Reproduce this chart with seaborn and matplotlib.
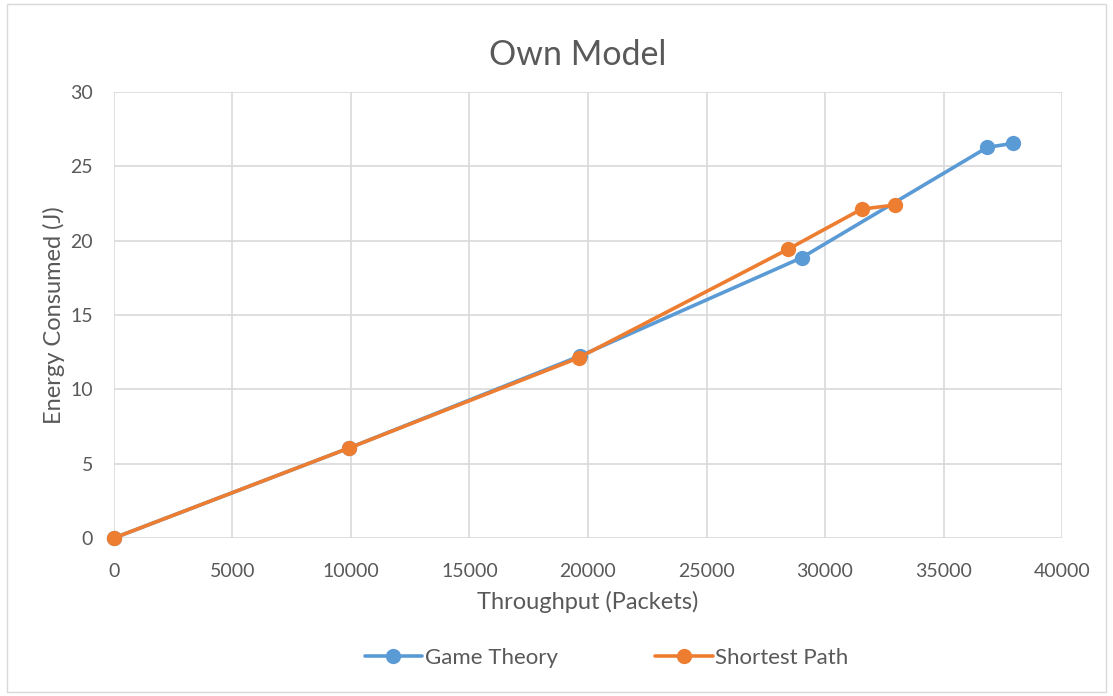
import matplotlib
matplotlib.use("Agg")
import matplotlib.pyplot as plt
import matplotlib.patches as mpatches
import seaborn as sns
import pandas as pd

# values
gt_throughput = [0, 9916, 19662, 29017, 36848, 37945]
gt_energy = [0, 6.05, 12.24, 18.85, 26.27, 26.54]
sp_throughput = [0, 9916, 19608, 28426, 31548, 32966]
sp_energy = [0, 6.05, 12.12, 19.41, 22.12, 22.39]
series_names = ["Game Theory", "Shortest Path"]
colors = ["#5B9BD5", "#ED7D31"]

df = pd.concat([
    pd.DataFrame({"x": gt_throughput, "y": gt_energy, "series": series_names[0]}),
    pd.DataFrame({"x": sp_throughput, "y": sp_energy, "series": series_names[1]}),
], ignore_index=True)

sns.set_style("white")
plt.rcParams["font.family"] = ["Lato", "DejaVu Sans"]
text_color = "#595959"

fig = plt.figure(figsize=(11.13, 6.96), dpi=100)
ax = fig.add_axes([0.1024, 0.227, 0.8518, 0.641])

sns.lineplot(data=df, x="x", y="y", hue="series", hue_order=series_names,
             palette=colors, marker="o", markersize=11, markeredgewidth=0,
             linewidth=2.6, sort=False, estimator=None, ax=ax)

ax.set_xlim(0, 40000)
ax.set_ylim(0, 30)
ax.set_xticks(range(0, 40001, 5000))
ax.set_yticks(range(0, 31, 5))
ax.grid(True, color="#d9d9d9", linewidth=1.2)
ax.set_axisbelow(True)
for s in ax.spines.values():
    s.set_visible(False)
ax.tick_params(length=0, labelsize=14, colors=text_color)
ax.tick_params(axis="x", pad=18)
ax.tick_params(axis="y", pad=15)
for line in ax.lines:
    line.set_clip_on(False)

ax.set_xlabel("Throughput (Packets)", fontsize=17, color=text_color, labelpad=8)
ax.set_ylabel("Energy Consumed (J)", fontsize=17, color=text_color, labelpad=4)
fig.text(0.519, 0.921, "Own Model", fontsize=24.5, color=text_color,
         ha="center", va="center")

handles, labels = ax.get_legend_handles_labels()
ax.legend(handles, labels, loc="center", bbox_to_anchor=(0.545, 0.055),
          bbox_transform=fig.transFigure, ncol=2, frameon=False,
          fontsize=16, labelcolor=text_color, columnspacing=4.4,
          handlelength=2.6, handletextpad=0.1)

fig.patches.append(mpatches.Rectangle((0.006, 0.006), 0.988, 0.988,
                                      transform=fig.transFigure, fill=False,
                                      edgecolor="#d9d9d9", linewidth=1))

fig.savefig("out.png", dpi=100)
